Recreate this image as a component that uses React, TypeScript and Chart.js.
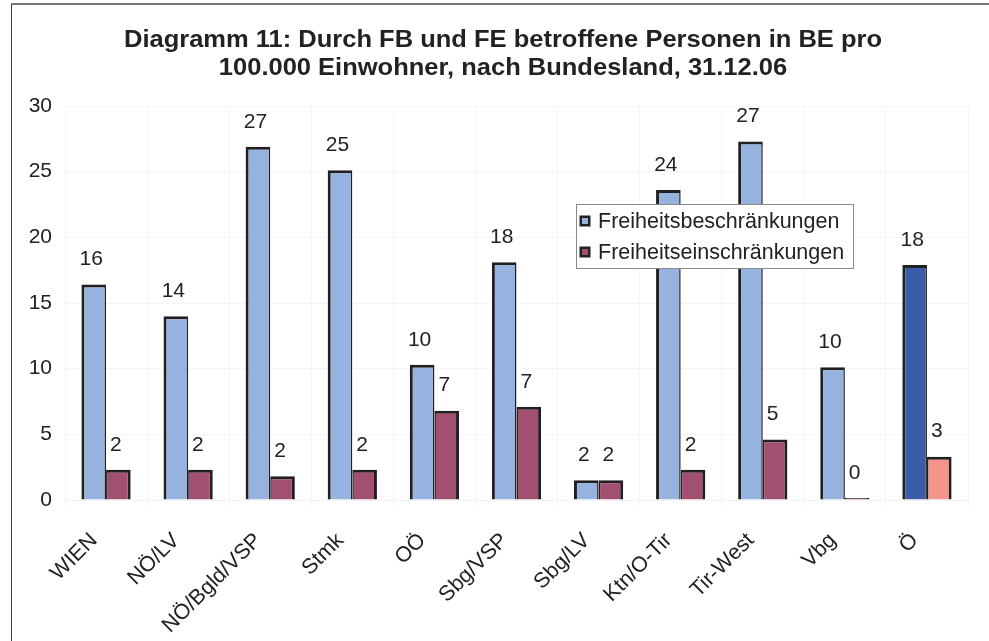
import React, { useEffect, useRef } from "react";
import { Chart, registerables } from "chart.js";

Chart.register(...registerables);

const categories = ["WIEN", "NÖ/LV", "NÖ/Bgld/VSP", "Stmk", "OÖ", "Sbg/VSP", "Sbg/LV", "Ktn/O-Tir", "Tir-West", "Vbg", "Ö"];
const fbValues = [16.4, 14.0, 26.9, 25.1, 10.3, 18.1, 1.5, 23.6, 27.3, 10.1, 17.9];
const feValues = [2.3, 2.3, 1.8, 2.3, 6.8, 7.1, 1.5, 2.3, 4.6, 0.15, 3.3];
const seriesNames = ["Freiheitsbeschränkungen", "Freiheitseinschränkungen"];
const titleLines = ["Diagramm 11: Durch FB und FE betroffene Personen in BE pro", "100.000 Einwohner, nach Bundesland, 31.12.06"];
const yTicks = [0, 5, 10, 15, 20, 25, 30];

const FB_COLOR = "#95B3DE";
const FB_TOTAL = "#3B5CA8";
const FE_COLOR = "#A15071";
const FE_TOTAL = "#F4948B";
const TEXT = "#222222";
const FONT = "'Liberation Sans', Arial, sans-serif";

const overlayPlugin = {
  id: "overlay",
  afterDatasetsDraw(chart: any) {
    const ctx = chart.ctx;
    ctx.save();
    ctx.fillStyle = TEXT;
    ctx.font = `21px ${FONT}`;
    ctx.textAlign = "center";
    ctx.textBaseline = "middle";
    chart.data.datasets.forEach((ds: any, di: number) => {
      const meta = chart.getDatasetMeta(di);
      meta.data.forEach((el: any, i: number) => {
        const v = ds.data[i];
        ctx.fillText(String(Math.round(v)), el.x - 2.5, el.y - 25);
      });
    });
    ctx.restore();
  },
  afterDraw(chart: any) {
    const ctx = chart.ctx;
    ctx.save();
    // title
    ctx.fillStyle = TEXT;
    ctx.font = `bold 24px ${FONT}`;
    ctx.textBaseline = "alphabetic";
    ctx.textAlign = "center";
    const w1 = ctx.measureText(titleLines[0]).width;
    const sx = 758 / w1;
    const cx = 503;
    [47, 74.5].forEach((y, i) => {
      ctx.save();
      ctx.translate(cx, y);
      ctx.scale(sx, 1);
      ctx.fillText(titleLines[i], 0, 0);
      ctx.restore();
    });
    // legend
    const lx = 576, ly = 204, lw = 277, lh = 64;
    ctx.fillStyle = "#ffffff";
    ctx.fillRect(lx, ly, lw, lh);
    ctx.strokeStyle = "#8a8a8a";
    ctx.lineWidth = 1;
    ctx.strokeRect(lx + 0.5, ly + 0.5, lw, lh);
    const colors = [FB_COLOR, FE_COLOR];
    const rows = [221, 252];
    ctx.font = `21.5px ${FONT}`;
    ctx.textAlign = "left";
    ctx.textBaseline = "middle";
    rows.forEach((ry, i) => {
      ctx.fillStyle = "#222";
      ctx.fillRect(579.5, ry - 5.5, 11, 11);
      ctx.fillStyle = colors[i];
      ctx.fillRect(582, ry - 3, 6, 6);
      ctx.fillStyle = TEXT;
      ctx.fillText(seriesNames[i], 598, ry + 1);
    });
    ctx.restore();
  },
};

export default function App() {
  const ref = useRef<HTMLCanvasElement>(null);
  useEffect(() => {
    if (!ref.current) return;
    const chart = new Chart(ref.current, {
      type: "bar",
      data: {
        labels: categories,
        datasets: [
          {
            label: seriesNames[0],
            data: fbValues,
            backgroundColor: categories.map((c, i) => (i === categories.length - 1 ? FB_TOTAL : FB_COLOR)),
            borderColor: "#231F20",
            borderWidth: { top: 3, left: 3, right: 1.5, bottom: 0 },
            borderSkipped: false,
            categoryPercentage: 0.6,
            barPercentage: 1.0,
          },
          {
            label: seriesNames[1],
            data: feValues,
            backgroundColor: categories.map((c, i) => (i === categories.length - 1 ? FE_TOTAL : FE_COLOR)),
            borderColor: "#231F20",
            borderWidth: { top: 3, left: 1.5, right: 3, bottom: 0 },
            borderSkipped: false,
            categoryPercentage: 0.6,
            barPercentage: 1.0,
          },
        ],
      },
      options: {
        responsive: false,
        animation: false,
        layout: { padding: { top: 106, left: 0, right: 21, bottom: 0 } },
        plugins: {
          legend: { display: false },
          title: { display: false },
          tooltip: { enabled: false },
        },
        scales: {
          x: {
            grid: { color: "#f5f5f5", offset: true, drawTicks: true, tickLength: 6 },
            border: { color: "#f3f3f3" },
            ticks: {
              color: TEXT,
              font: { family: FONT, size: 21.5 },
              maxRotation: 45,
              minRotation: 45,
              padding: 22,
              labelOffset: -12,
              autoSkip: false,
            },
            afterFit: (s: any) => {
              s.height = 141;
            },
          },
          y: {
            min: 0,
            max: 30,
            afterBuildTicks: (s: any) => {
              s.ticks = yTicks.map((v) => ({ value: v }));
            },
            grid: { color: "#f5f5f5", drawTicks: false },
            border: { display: false },
            ticks: {
              color: TEXT,
              font: { family: FONT, size: 21 },
              padding: 13,
            },
            afterFit: (s: any) => {
              s.width = 65;
            },
          },
        },
      },
      plugins: [overlayPlugin],
    });
    return () => chart.destroy();
  }, []);
  return (
    <div style={{ position: "fixed", left: 0, top: 0, width: 989, height: 641, background: "#fff", overflow: "hidden" }}>
      <canvas ref={ref} width={989} height={641} style={{ position: "absolute", left: 0, top: 0 }} />
      <div
        style={{
          position: "absolute",
          left: 11,
          top: 3,
          width: 1100,
          height: 800,
          borderLeft: "1px solid #444",
          borderTop: "2px solid #777",
          pointerEvents: "none",
        }}
      />
    </div>
  );
}
